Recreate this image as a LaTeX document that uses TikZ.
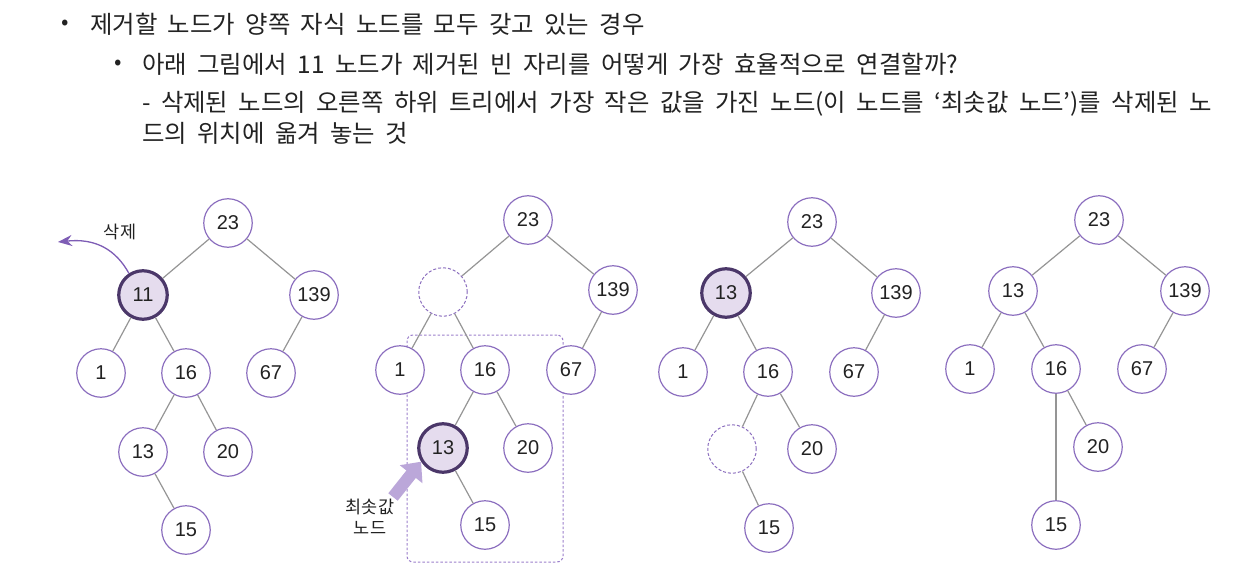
\documentclass[tikz,border=0pt]{standalone}
\usepackage{fontspec}
\setmainfont{Noto Sans CJK KR}[WordSpace=1.9]
\newfontfamily\numfont{Liberation Sans}
\usetikzlibrary{arrows.meta}
\definecolor{nodepurple}{HTML}{8C6FBF}
\definecolor{darkpurple}{HTML}{4B3769}
\definecolor{lightpurple}{HTML}{E5DCEE}
\definecolor{edgegray}{HTML}{959595}
\definecolor{delpurple}{HTML}{7E5DB5}
\definecolor{bigpurple}{HTML}{BBA7D9}
\definecolor{rectpurple}{HTML}{9B7FCB}
\definecolor{txt}{HTML}{222222}
\tikzset{
  tn/.style={circle, minimum size=48.5pt, inner sep=0pt, draw=nodepurple, line width=1.2pt, fill=white, font=\numfont\fontsize{20}{21}\selectfont, text=txt},
  hl/.style={tn, draw=darkpurple, line width=3.2pt, fill=lightpurple},
  emptyn/.style={tn, dash pattern=on 3pt off 2pt, line width=1pt},
  edge/.style={draw=edgegray, line width=1.2pt},
  bodytext/.style={anchor=base west, inner sep=0pt, text=txt, font=\fontsize{24.4}{28}\selectfont},
  bullet/.style={anchor=center, inner sep=0pt, text=txt, font=\fontsize{22}{26}\selectfont},
  smalllabel/.style={inner sep=0pt, text=txt, font=\fontsize{17.5}{21}\selectfont, align=center},
  delarrow/.style={draw=delpurple, line width=1.3pt, -{Stealth[length=14pt,width=11pt]}},
  bigarrow/.style={draw=bigpurple, line width=12pt, -{Triangle[length=16pt,width=28pt]}},
  subrect/.style={draw=rectpurple, line width=1pt, dash pattern=on 2.5pt off 2pt, rounded corners=6pt}
}
\begin{document}
\begin{tikzpicture}[x=1pt,y=-1pt]
\useasboundingbox (0,0) rectangle (1250,578);
% text
\node[bullet] (b1) at (65,25) {•};
\node[bodytext] (t1) at (90,34) {제거할 노드가 양쪽 자식 노드를 모두 갖고 있는 경우};
\node[bullet] (b2) at (118,65) {•};
\node[bodytext] (t2) at (142,74) {아래 그림에서 11 노드가 제거된 빈 자리를 어떻게 가장 효율적으로 연결할까?};
\node[bodytext] (t3) at (142,111) {- 삭제된 노드의 오른쪽 하위 트리에서 가장 작은 값을 가진 노드(이 노드를 ‘최솟값 노드’)를 삭제된 노};
\node[bodytext] (t4) at (142,142) {드의 위치에 옮겨 놓는 것};

% ---------- tree 1 ----------
\node[tn] (a23) at (228,223) {23};
\node[hl] (a11) at (143,295) {11};
\node[tn] (a139) at (314,295) {139};
\node[tn] (a1) at (101,373) {1};
\node[tn] (a16) at (186,373) {16};
\node[tn] (a67) at (271,373) {67};
\node[tn] (a13) at (143,452) {13};
\node[tn] (a20) at (228,452) {20};
\node[tn] (a15) at (186,530) {15};
\draw[edge] (a23) -- (a11);
\draw[edge] (a23) -- (a139);
\draw[edge] (a11) -- (a1);
\draw[edge] (a11) -- (a16);
\draw[edge] (a139) -- (a67);
\draw[edge] (a16) -- (a13);
\draw[edge] (a16) -- (a20);
\draw[edge] (a13) -- (a15);
\coordinate (delend) at (58,242);
\draw[delarrow] (a11.123) .. controls (116,250) and (96,238) .. (delend);
\node[smalllabel] (dellabel) at (120,232) {삭제};

% ---------- tree 2 ----------
\node[subrect, minimum width=156pt, minimum height=227pt, inner sep=0pt] (box) at (485,448.5) {};
\node[tn] (b23) at (528,220) {23};
\node[emptyn] (be) at (443,292) {};
\node[tn] (b139) at (613,290) {139};
\node[tn] (bb1) at (400,370) {1};
\node[tn] (b16) at (485,370) {16};
\node[tn] (b67) at (571,370) {67};
\node[hl] (b13) at (443,448) {13};
\node[tn] (b20) at (528,448) {20};
\node[tn] (b15) at (485,525) {15};
\draw[edge] (b23) -- (be);
\draw[edge] (b23) -- (b139);
\draw[edge] (be) -- (bb1);
\draw[edge] (be) -- (b16);
\draw[edge] (b139) -- (b67);
\draw[edge] (b16) -- (b13);
\draw[edge] (b16) -- (b20);
\draw[edge] (b13) -- (b15);
\coordinate (bigstart) at (393,497);
\draw[bigarrow] (bigstart) -- (b13.212);
\node[smalllabel] (minlabel) at (370,517) {최솟값\\노드};

% ---------- tree 3 ----------
\node[tn] (c23) at (812,222) {23};
\node[hl] (c13) at (726,293) {13};
\node[tn] (c139) at (896,293) {139};
\node[tn] (c1) at (683,372) {1};
\node[tn] (c16) at (768,372) {16};
\node[tn] (c67) at (854,372) {67};
\node[emptyn] (ce) at (732,449) {};
\node[tn] (c20) at (812,449) {20};
\node[tn] (c15) at (769,528) {15};
\draw[edge] (c23) -- (c13);
\draw[edge] (c23) -- (c139);
\draw[edge] (c13) -- (c1);
\draw[edge] (c13) -- (c16);
\draw[edge] (c139) -- (c67);
\draw[edge] (c16) -- (ce);
\draw[edge] (c16) -- (c20);
\draw[edge] (ce) -- (c15);

% ---------- tree 4 ----------
\node[tn] (d23) at (1099,220) {23};
\node[tn] (d13) at (1013,291) {13};
\node[tn] (d139) at (1185,291) {139};
\node[tn] (d1) at (970,369) {1};
\node[tn] (d16) at (1056,369) {16};
\node[tn] (d67) at (1142,369) {67};
\node[tn] (d20) at (1098,447) {20};
\node[tn] (d15) at (1056,525) {15};
\draw[edge] (d23) -- (d13);
\draw[edge] (d23) -- (d139);
\draw[edge] (d13) -- (d1);
\draw[edge] (d13) -- (d16);
\draw[edge] (d139) -- (d67);
\draw[edge] (d16) -- (d15);
\draw[edge] (d16) -- (d20);
\end{tikzpicture}
\end{document}
